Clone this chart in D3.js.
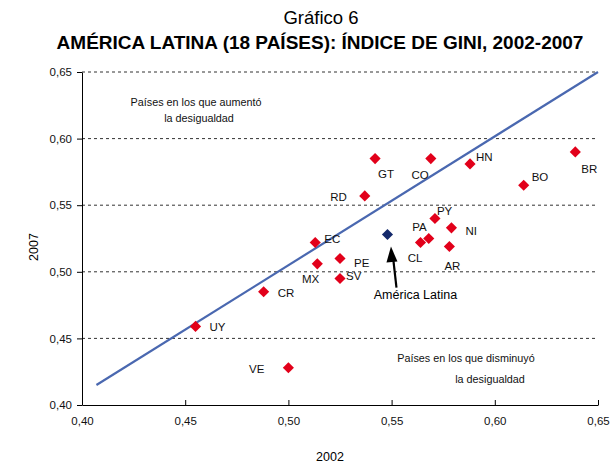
<!DOCTYPE html>
<html><head><meta charset="utf-8">
<script src="https://cdn.jsdelivr.net/npm/d3@7"></script>
<style>body{margin:0;background:#fff;} svg{display:block;font-family:"Liberation Sans",Arial,sans-serif;}</style>
</head><body><svg id="c" width="611" height="465"></svg>
<script>
const countries = ["UY","VE","CR","MX","EC","SV","PE","RD","GT","CO","HN","BO","BR","PY","NI","PA","CL","AR"];
const gini2002 = [0.455,0.500,0.488,0.514,0.513,0.525,0.525,0.537,0.542,0.569,0.588,0.614,0.639,0.571,0.579,0.568,0.564,0.578];
const gini2007 = [0.459,0.428,0.485,0.506,0.522,0.495,0.510,0.557,0.585,0.585,0.581,0.565,0.590,0.540,0.533,0.525,0.522,0.519];
const latamLabel = "América Latina";
const latam2002 = [0.548];
const latam2007 = [0.528];
const trendX = [0.407, 0.65];
const trendY = [0.415, 0.65];
const xTicks = [0.40,0.45,0.50,0.55,0.60,0.65];
const yTicks = [0.40,0.45,0.50,0.55,0.60,0.65];
// label offsets (px) [dx, dy, anchor]
const labelPos = {UY:[14,5,"start"],VE:[-24,5,"end"],CR:[14,5,"start"],MX:[2,19,"end"],EC:[9,1,"start"],SV:[6,2,"start"],PE:[14,9,"start"],RD:[-18,5,"end"],GT:[3,19,"start"],CO:[-2,20,"end"],HN:[6,-3,"start"],BO:[8,-4,"start"],BR:[6,21,"start"],PY:[2,-4,"start"],NI:[14,7,"start"],PA:[-2,-8,"end"],CL:[2,20,"end"],AR:[-5,24,"start"]};

const svg = d3.select("#c");
const x = d3.scaleLinear().domain([0.40,0.65]).range([82,598]);
const y = d3.scaleLinear().domain([0.40,0.65]).range([405,72]);
const fmt = d => d3.format(".2f")(d).replace(".", ",");

// titles
svg.append("text").attr("x",321).attr("y",24).attr("text-anchor","middle").attr("font-size",18.5).text("Gráfico 6");
svg.append("text").attr("x",320).attr("y",49).attr("text-anchor","middle").attr("font-size",19).attr("font-weight","bold").text("AMÉRICA LATINA (18 PAÍSES): ÍNDICE DE GINI, 2002-2007");

// gridlines
svg.append("g").selectAll("line").data(yTicks.slice(1)).join("line")
  .attr("x1",82).attr("x2",598).attr("y1",d=>y(d)).attr("y2",d=>y(d))
  .attr("stroke","#333").attr("stroke-width",1).attr("stroke-dasharray","3,3");

// axes
const ya = svg.append("g").attr("transform","translate(82,0)")
  .call(d3.axisLeft(y).tickValues(yTicks).tickFormat(fmt).tickSize(5).tickSizeOuter(0));
const xa = svg.append("g").attr("transform","translate(0,405)")
  .call(d3.axisBottom(x).tickValues(xTicks).tickFormat(fmt).tickSize(-5).tickSizeOuter(0));
xa.selectAll(".tick text").attr("y",12).attr("dy","0.71em");
ya.selectAll(".tick text").attr("x",-10);
[xa,ya].forEach(a=>{a.selectAll("text").attr("font-size",11.5).attr("fill","#111").attr("font-family","Liberation Sans, Arial, sans-serif");
  a.selectAll("line,path").attr("stroke","#000");});

svg.append("text").attr("x",330).attr("y",461).attr("text-anchor","middle").attr("font-size",12.5).text("2002");
svg.append("text").attr("transform","translate(38,247) rotate(-90)").attr("text-anchor","middle").attr("font-size",12.5).text("2007");

// region annotations
const ann = svg.append("g").attr("font-size",10.8).attr("text-anchor","middle").attr("fill","#111");
ann.append("text").attr("x",196).attr("y",106).text("Países en los que aumentó");
ann.append("text").attr("x",199).attr("y",122).text("la desigualdad");
ann.append("text").attr("x",466).attr("y",362).text("Países en los que disminuyó");
ann.append("text").attr("x",490).attr("y",383).text("la desigualdad");

// trend line
svg.append("line").attr("x1",x(trendX[0])).attr("y1",y(trendY[0])).attr("x2",x(trendX[1])).attr("y2",y(trendY[1]))
  .attr("stroke","#4a68b0").attr("stroke-width",2.2);

// points
const sym = d3.symbol().type(d3.symbolSquare).size(62);
const pts = countries.map((c,i)=>({c, x:gini2002[i], y:gini2007[i]}));
svg.append("g").selectAll("path").data(pts).join("path")
  .attr("d",sym).attr("transform",d=>`translate(${x(d.x)},${y(d.y)}) rotate(45)`).attr("fill","#e2001a");
svg.append("g").attr("font-size",11.5).attr("fill","#111").selectAll("text").data(pts).join("text")
  .attr("x",d=>x(d.x)+labelPos[d.c][0]).attr("y",d=>y(d.y)+labelPos[d.c][1])
  .attr("text-anchor",d=>labelPos[d.c][2]).text(d=>d.c);

// Latin America
svg.append("path").attr("d",sym).attr("transform",`translate(${x(latam2002[0])},${y(latam2007[0])}) rotate(45)`).attr("fill","#14296b");
const ax = x(latam2002[0]), ay = y(latam2007[0]);
svg.append("line").attr("x1",ax+9).attr("y1",ay+53).attr("x2",ax+5.5).attr("y2",ay+22).attr("stroke","#000").attr("stroke-width",2.2);
svg.append("path").attr("d",`M${ax+3.5},${ay+12} L${ax+10},${ay+27} L${ax-1},${ay+28} Z`).attr("fill","#000");
svg.append("text").attr("x",ax+28).attr("y",ay+64).attr("text-anchor","middle").attr("font-size",12.5).text(latamLabel);
</script></body></html>
